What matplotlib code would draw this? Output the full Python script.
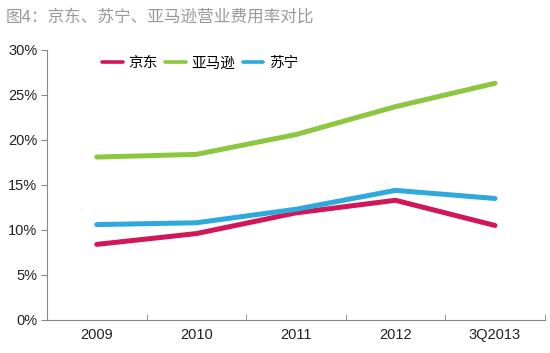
import matplotlib
matplotlib.use("Agg")
import matplotlib.pyplot as plt
from matplotlib.ticker import FixedLocator, FuncFormatter

plt.rcParams['font.family'] = ['Noto Sans CJK SC', 'DejaVu Sans']

categories = ["2009", "2010", "2011", "2012", "3Q2013"]
jd = [8.4, 9.6, 11.9, 13.3, 10.5]
amazon = [18.1, 18.4, 20.6, 23.7, 26.3]
suning = [10.6, 10.8, 12.3, 14.4, 13.5]
series_names = ["京东", "亚马逊", "苏宁"]
colors = ["#D1165A", "#8DC63F", "#2EA9DB"]
yticks = [0, 5, 10, 15, 20, 25, 30]

fig = plt.figure(figsize=(5.5, 3.53), dpi=100)
ax = fig.add_axes([0.0855, 0.0935, 0.905, 0.765])

x = list(range(len(categories)))
for vals, name, c in zip([jd, amazon, suning], series_names, colors):
    ax.plot(x, vals, color=c, lw=3.6, solid_capstyle='round', solid_joinstyle='round', label=name)

ax.set_xlim(-0.5, len(categories) - 0.5)
ax.set_ylim(0, 30)
ax.yaxis.set_major_locator(FixedLocator(yticks))
ax.yaxis.set_major_formatter(FuncFormatter(lambda v, p: f"{int(v)}%"))
ax.set_xticks(x)
ax.set_xticklabels(categories)
ax.set_xticks([i - 0.5 for i in range(len(categories) + 1)], minor=True)
ax.tick_params(axis='x', which='major', length=0, pad=6)
ax.tick_params(axis='x', which='minor', length=4, color='#888888', direction='in')
ax.tick_params(axis='y', length=4, color='#888888', direction='out', pad=3)
for lab in ax.get_xticklabels() + ax.get_yticklabels():
    lab.set_fontfamily(['Liberation Sans', 'DejaVu Sans'])
    lab.set_fontsize(10.5)
    lab.set_color('#222222')

for s in ['top', 'right']:
    ax.spines[s].set_visible(False)
for s in ['left', 'bottom']:
    ax.spines[s].set_color('#888888')
    ax.spines[s].set_linewidth(0.8)

leg = ax.legend(loc='upper left', bbox_to_anchor=(0.085, 1.025), ncol=3, frameon=False,
                handlelength=1.4, handletextpad=0.4, columnspacing=0.5,
                prop={'family': ['Noto Sans CJK SC'], 'size': 10.5})
for h in leg.get_lines():
    h.set_linewidth(2.6)

fig.text(0.01, 0.975, "图4：京东、苏宁、亚马逊营业费用率对比", ha='left', va='top',
         fontsize=12, color='#999999')

fig.savefig("out.png", dpi=100)
